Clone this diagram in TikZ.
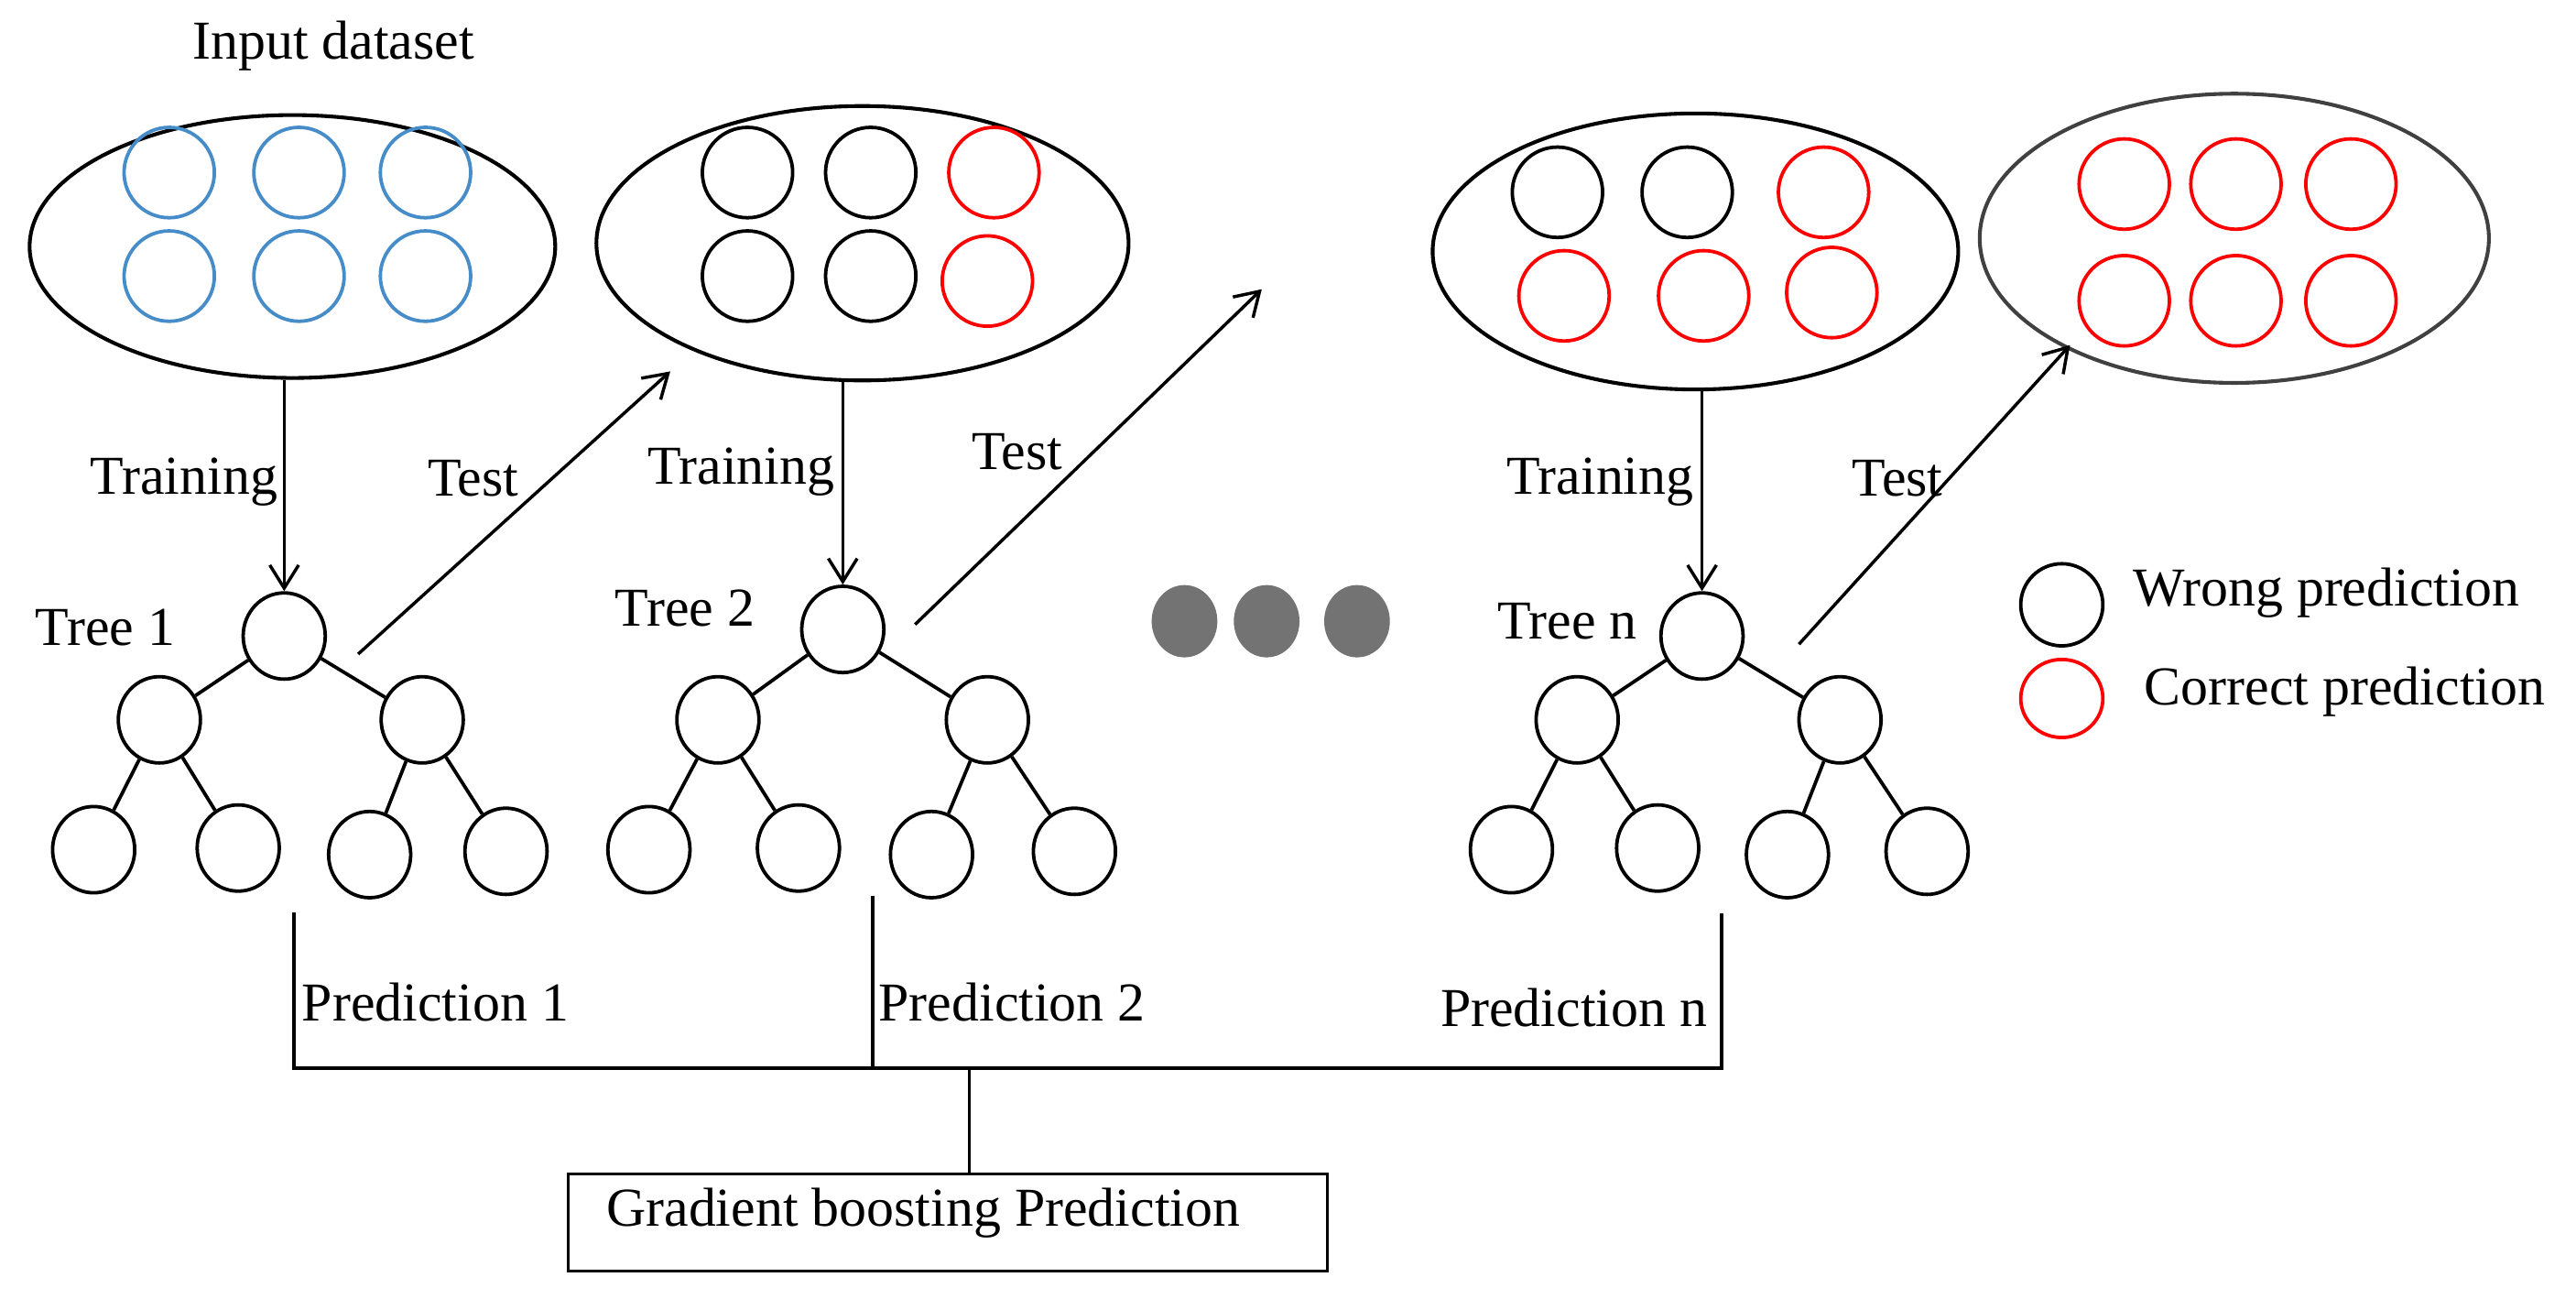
\documentclass[tikz,border=0pt]{standalone}
\usepackage{fontspec}
\setmainfont{Liberation Serif}
\usetikzlibrary{shapes.geometric,arrows.meta}
\begin{document}
\begin{tikzpicture}[x=0.02cm,y=-0.02cm,
  lbl/.style={font=\fontsize{19}{22}\selectfont,inner sep=0pt},
  bigell/.style={ellipse,draw,line width=1.3pt,inner sep=0pt},
  dc/.style={ellipse,draw,line width=1.2pt,minimum width=1.1cm,minimum height=1.1cm,inner sep=0pt},
  tn/.style={ellipse,draw,line width=1.2pt,minimum width=1.0cm,minimum height=1.05cm,inner sep=0pt,fill=white},
  blu/.style={dc,draw={rgb,255:red,70;green,140;blue,200}},
  blk/.style={dc,draw=black},
  red/.style={dc,draw=red},
  arr/.style={-{Straight Barb[length=8pt,width=10pt]},line width=1.1pt},
  ln/.style={line width=1.2pt}]
\useasboundingbox (0,0) rectangle (1568,790);
% ellipses
\node[bigell,minimum width=6.4cm,minimum height=3.2cm] (e1) at (178,150) {};
\node[bigell,minimum width=6.48cm,minimum height=3.34cm] (e2) at (525,148) {};
\node[bigell,minimum width=6.4cm,minimum height=3.36cm] (e3) at (1032,153) {};
\node[bigell,draw=black!75,minimum width=6.2cm,minimum height=3.52cm] (e4) at (1360,145) {};
% circles
\foreach \x/\n in {103/a,182/b,259/c}{
  \node[blu] (e1t\n) at (\x,105) {};
  \node[blu] (e1b\n) at (\x,168) {};}
\node[blk] (e2ta) at (455,105) {}; \node[blk] (e2tb) at (530,105) {}; \node[red] (e2tc) at (605,105) {};
\node[blk] (e2ba) at (455,168) {}; \node[blk] (e2bb) at (530,168) {}; \node[red] (e2bc) at (601,171) {};
\node[blk] (e3ta) at (948,117) {}; \node[blk] (e3tb) at (1027,117) {}; \node[red] (e3tc) at (1110,117) {};
\node[red] (e3ba) at (952,180) {}; \node[red] (e3bb) at (1037,180) {}; \node[red] (e3bc) at (1115,178) {};
\foreach \x/\n in {1293/a,1361/b,1431/c}{
  \node[red] (e4t\n) at (\x,112) {};
  \node[red] (e4b\n) at (\x,183) {};}
\node[lbl] (inp) at (203,28) {Input dataset};
% trees
\foreach \t/\rx/\ry/\lx/\rrx/\ay/\ba/\bb/\bc/\bd in {1/173/387/97/257/438/57/145/225/308, 2/513/383/437/601/438/395/486/567/654, n/1036/387/960/1120/438/920/1009/1088/1173}{
  \node[tn] (r\t) at (\rx,\ry) {};
  \node[tn] (l\t) at (\lx,\ay) {};
  \node[tn] (m\t) at (\rrx,\ay) {};
  \node[tn] (la\t) at (\ba,517) {};
  \node[tn] (lb\t) at (\bb,516) {};
  \node[tn] (lc\t) at (\bc,520) {};
  \node[tn] (ld\t) at (\bd,518) {};
  \draw[ln] (r\t)--(l\t) (r\t)--(m\t) (l\t)--(la\t) (l\t)--(lb\t) (m\t)--(lc\t) (m\t)--(ld\t);
}
% training arrows
\draw[arr] (e1.south -| r1) -- (r1.north);
\draw[arr] (e2.south -| r2) -- (r2.north);
\draw[arr] (e3.south -| rn) -- (rn.north);
% test arrows
\coordinate (t1s) at (218,398); \coordinate (t1e) at (408,226);
\coordinate (t2s) at (557,380); \coordinate (t2e) at (768,176);
\coordinate (t3s) at (1095,392); \coordinate (t3e) at (1260,210);
\draw[arr] (t1s)--(t1e); \draw[arr] (t2s)--(t2e); \draw[arr] (t3s)--(t3e);
\node[lbl] at (112,293) {Training};
\node[lbl] at (288,291) {Test};
\node[lbl] at (451,287) {Training};
\node[lbl] at (619,275) {Test};
\node[lbl] at (974,293) {Training};
\node[lbl] at (1155,291) {Test};
\node[lbl] at (64,382) {Tree 1};
\node[lbl] at (417,370) {Tree 2};
\node[lbl] at (954,378) {Tree n};
% dots
\foreach \x/\n in {721/a,771/b,826/c}
  \node[ellipse,fill=black!55,minimum width=0.8cm,minimum height=0.88cm,inner sep=0pt] (d\n) at (\x,378) {};
% legend
\node[tn,minimum width=1.0cm,minimum height=1.0cm] (lw) at (1255,368) {};
\node[lbl,anchor=west] at (1298,361) {Wrong prediction};
\node[tn,draw=red,minimum width=1.0cm,minimum height=0.95cm] (lr) at (1255,425) {};
\node[lbl,anchor=west] at (1305,421) {Correct prediction};
% bottom
\coordinate (p1) at (179,555); \coordinate (p2) at (531,545); \coordinate (p3) at (1048,556);
\coordinate (h1) at (179,650); \coordinate (h2) at (531,650); \coordinate (h3) at (1048,650);
\coordinate (hm) at (590,650);
\node[draw,line width=1pt,minimum width=9.24cm,minimum height=1.18cm,inner sep=0pt] (gb) at (577,744) {};
\node[lbl] at (562,738) {Gradient boosting Prediction};
\draw[ln] (p1)--(h1)--(h3)--(p3) (p2)--(h2) (hm)--(hm |- gb.north);
\node[lbl] at (265,610) {Prediction 1};
\node[lbl] at (616,610) {Prediction 2};
\node[lbl] at (958,613) {Prediction n};
\end{tikzpicture}
\end{document}
